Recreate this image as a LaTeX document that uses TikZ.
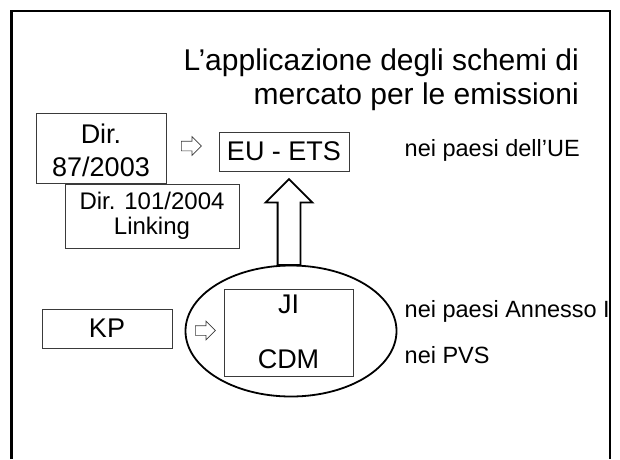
\documentclass[tikz,border=0pt]{standalone}
\usepackage{fontspec}
\setmainfont{Liberation Sans}
\usetikzlibrary{shapes.geometric,shapes.arrows}
\definecolor{boxline}{HTML}{3A3A3A}
\begin{document}
\begin{tikzpicture}[x=1pt,y=-1pt,
  boxnode/.style={draw=boxline, line width=0.8pt, inner sep=0pt, align=center},
  bigfont/.style={font=\fontsize{27}{33}\selectfont},
  midfont/.style={font=\fontsize{24}{24.5}\selectfont},
  sidetext/.style={font=\fontsize{23.5}{28}\selectfont, anchor=base west, inner sep=0pt},
  titletext/.style={font=\fontsize{30}{35}\selectfont, anchor=base east, inner sep=0pt},
  hollowsmall/.style={single arrow, draw=boxline, line width=0.7pt, minimum height=20pt, minimum width=18pt, single arrow head extend=4.5pt, inner sep=4.5pt, anchor=tail},
  hollowbig/.style={single arrow, draw=black, line width=1.8pt, minimum height=86pt, minimum width=45pt, single arrow head extend=12pt, inner sep=10.5pt, anchor=tail, rotate=90},
]
\useasboundingbox (0,0) rectangle (620,459);
% frame
\draw[line width=2.5pt] (11.5,459) -- (11.5,11) -- (610,11) -- (610,459);
% title
\node[titletext] (t1) at (579,70) {L’applicazione degli schemi di};
\node[titletext] (t2) at (579,104) {mercato per le emissioni};
% boxes
\node[boxnode, bigfont, minimum width=130pt, minimum height=70pt] (dir87) at (101,148) {\rule{0pt}{24pt}Dir.\\87/2003};
\node[boxnode, midfont, minimum width=174pt, minimum height=64pt, fill=white] (dir101) at (152,216) {Dir. 101/2004\\Linking};
\node[boxnode, bigfont, minimum width=130pt, minimum height=39pt] (eu) at (284,151.5) {EU - ETS};
\node[boxnode, bigfont, minimum width=130pt, minimum height=39pt] (kp) at (107,328.5) {KP};
% ellipse with JI / CDM
\node[draw, ellipse, line width=1.8pt, minimum width=211pt, minimum height=131pt, inner sep=0pt] (ell) at (291,331) {};
\node[boxnode, font=\fontsize{27}{55}\selectfont, text depth=2pt, minimum width=129pt, minimum height=87pt] (jicdm) at (288.5,332.5) {JI\\CDM};
% arrows
\node[hollowsmall] (arr1) at (181,146) {};
\node[hollowsmall] (arr2) at (195,330.5) {};
\node[hollowbig] (up) at (289,266) {};
% side texts
\node[sidetext] (ue) at (404.5,156) {nei paesi dell’UE};
\node[sidetext] (annex) at (404.5,317) {nei paesi Annesso I};
\node[sidetext] (pvs) at (404.5,363) {nei PVS};
\end{tikzpicture}
\end{document}
